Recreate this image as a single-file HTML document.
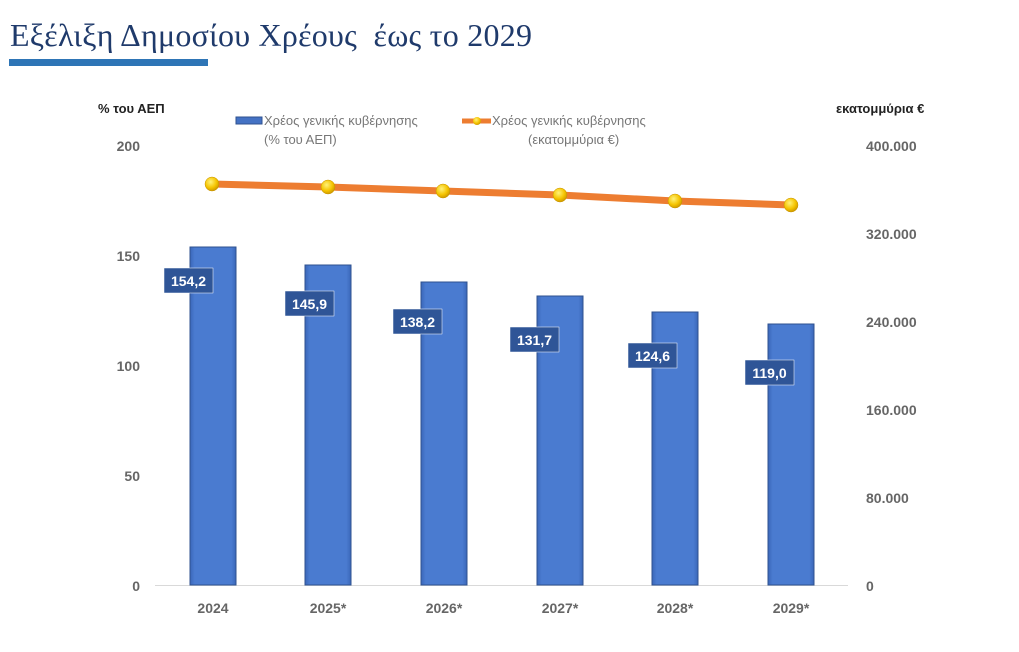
<!DOCTYPE html>
<html><head><meta charset="utf-8"><style>
body{margin:0;background:#fff;width:1019px;height:647px;overflow:hidden}
</style></head><body>
<svg width="1019" height="647" xmlns="http://www.w3.org/2000/svg" font-family="Liberation Sans, sans-serif">
<defs>
<linearGradient id="bg" x1="0" x2="1" y1="0" y2="0">
<stop offset="0" stop-color="#3a66b8"/><stop offset="0.1" stop-color="#4a7bd0"/><stop offset="0.9" stop-color="#4a7bd0"/><stop offset="1" stop-color="#3a66b8"/></linearGradient>
<radialGradient id="dot" cx="0.4" cy="0.35" r="0.7"><stop offset="0" stop-color="#fff27a"/><stop offset="0.6" stop-color="#f5c400"/><stop offset="1" stop-color="#c79200"/></radialGradient>
</defs>
<text x="10" y="46" font-family="Liberation Serif, serif" font-size="32" fill="#1f3a6b" textLength="522">Εξέλιξη Δημοσίου Χρέους&#160; έως το 2029</text>
<rect x="9" y="59" width="199" height="7" fill="#2e75b6"/>
<text x="98" y="113" font-size="13" font-weight="bold" fill="#222">% του ΑΕΠ</text>
<text x="836" y="113" font-size="13" font-weight="bold" fill="#222">εκατομμύρια €</text>
<rect x="236" y="117" width="26" height="7" fill="#4472c4" stroke="#2f528f" stroke-width="1"/>
<text x="264" y="125" font-size="13" fill="#777">Χρέος γενικής κυβέρνησης</text>
<text x="264" y="144" font-size="13" fill="#777">(% του ΑΕΠ)</text>
<line x1="462" y1="121" x2="491" y2="121" stroke="#ed7d31" stroke-width="5"/>
<circle cx="477" cy="121" r="4" fill="url(#dot)"/>
<text x="492" y="125" font-size="13" fill="#777">Χρέος γενικής κυβέρνησης</text>
<text x="528" y="144" font-size="13" fill="#777">(εκατομμύρια €)</text>
<g font-size="14" font-weight="bold" fill="#666" text-anchor="end">
<text x="140" y="151">200</text><text x="140" y="261">150</text><text x="140" y="371">100</text><text x="140" y="481">50</text><text x="140" y="591">0</text>
</g>
<g font-size="14" font-weight="bold" fill="#666">
<text x="866" y="151">400.000</text><text x="866" y="239">320.000</text><text x="866" y="327">240.000</text><text x="866" y="415">160.000</text><text x="866" y="503">80.000</text><text x="866" y="591">0</text>
</g>
<line x1="155" y1="585.5" x2="848" y2="585.5" stroke="#d9d9d9" stroke-width="1"/>
<g stroke="#2f528f" stroke-width="1" fill="url(#bg)">
<rect x="190" y="247" width="46" height="338"/>
<rect x="305" y="265" width="46" height="320"/>
<rect x="421" y="282" width="46" height="303"/>
<rect x="537" y="296" width="46" height="289"/>
<rect x="652" y="312" width="46" height="273"/>
<rect x="768" y="324" width="46" height="261"/>
</g>
<g fill="#2f5597" stroke="#fff" stroke-width="0.5">
<rect x="164" y="268" width="49" height="25"/>
<rect x="285" y="291" width="49" height="25"/>
<rect x="393" y="309" width="49" height="25"/>
<rect x="510" y="327" width="49" height="25"/>
<rect x="628" y="343" width="49" height="25"/>
<rect x="745" y="360" width="49" height="25"/>
</g>
<g font-size="14" font-weight="bold" fill="#fff" text-anchor="middle">
<text x="188.5" y="286">154,2</text><text x="309.5" y="309">145,9</text><text x="417.5" y="327">138,2</text>
<text x="534.5" y="345">131,7</text><text x="652.5" y="361">124,6</text><text x="769.5" y="378">119,0</text>
</g>
<polyline points="212,184 328,187 443,191 560,195 675,201 791,205" fill="none" stroke="#ed7d31" stroke-width="7" stroke-linejoin="round"/>
<g fill="url(#dot)" stroke="#c79200" stroke-width="0.5">
<circle cx="212" cy="184" r="7"/><circle cx="328" cy="187" r="7"/><circle cx="443" cy="191" r="7"/>
<circle cx="560" cy="195" r="7"/><circle cx="675" cy="201" r="7"/><circle cx="791" cy="205" r="7"/>
</g>
<g font-size="14" font-weight="bold" fill="#666" text-anchor="middle">
<text x="213" y="613">2024</text><text x="328" y="613">2025*</text><text x="444" y="613">2026*</text>
<text x="560" y="613">2027*</text><text x="675" y="613">2028*</text><text x="791" y="613">2029*</text>
</g>
</svg>
</body></html>
